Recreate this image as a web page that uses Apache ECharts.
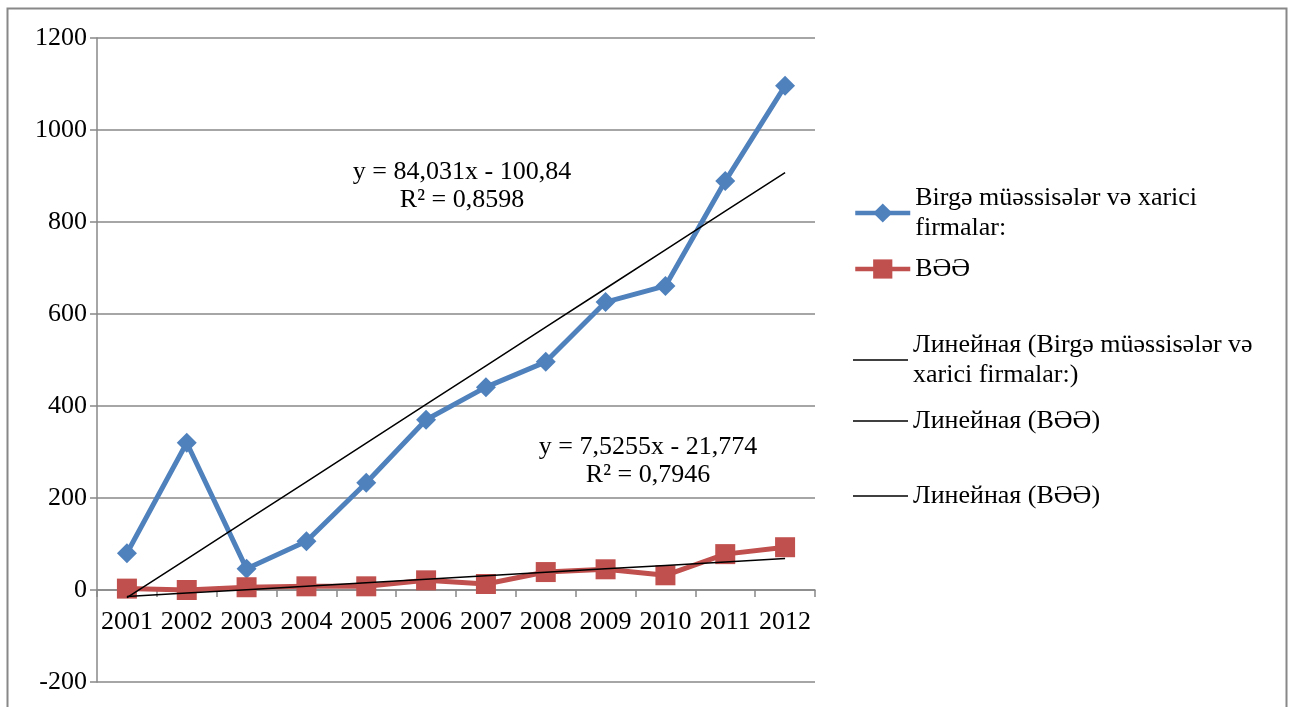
<!DOCTYPE html>
<html>
<head>
<meta charset="utf-8">
<script src="https://cdn.jsdelivr.net/npm/echarts@6/dist/echarts.min.js"></script>
<style>html,body{margin:0;padding:0;background:#fff}#c{width:1294px;height:707px}</style>
</head>
<body>
<div id="c"></div>
<script>
const years = ['2001','2002','2003','2004','2005','2006','2007','2008','2009','2010','2011','2012'];
const jointVentures = [80, 320, 46, 106, 233, 370, 441, 496, 626, 661, 889, 1096];
const bee = [3, 0, 6, 8, 8, 21, 13, 39, 45, 32, 78, 93];
const yTicks = [-200, 0, 200, 400, 600, 800, 1000, 1200];
const nameJV = 'Birgə müəssisələr və xarici firmalar:';
const nameBEE = 'BƏƏ';
const nameTrendJV = 'Линейная (Birgə müəssisələr və xarici firmalar:)';
const nameTrendBEE = 'Линейная (BƏƏ)';
// displayed trendline equations (x = 1..12)
const trendJV = { slope: 84.031, intercept: -100.84, eq: 'y = 84,031x - 100,84', r2: 'R² = 0,8598' };
const trendBEE = { slope: 7.5255, intercept: -21.774, eq: 'y = 7,5255x - 21,774', r2: 'R² = 0,7946' };

const trendPoints = t => years.map((_, i) => +(t.slope * (i + 1) + t.intercept).toFixed(2));

const FONT = '"Liberation Serif", "Times New Roman", serif';
const FS = 26;
const GRID_TOP = 38, GRID_H = 644;
const yMin = yTicks[0], yMax = yTicks[yTicks.length - 1];
// distance of the zero line above the grid bottom
const zeroOffset = GRID_H * (0 - yMin) / (yMax - yMin);
const chart = echarts.init(document.getElementById('c'));
const lineIcon = 'path://M0,0 L55,0 L55,1.6 L0,1.6 Z';
const legendBase = {
  orient: 'vertical', left: 853, padding: 0, itemWidth: 55, itemHeight: 18, itemGap: 0,
  selectedMode: false,
  textStyle: { fontFamily: FONT, fontSize: FS, color: '#000', lineHeight: 30 }
};
chart.setOption({
  animation: false,
  backgroundColor: '#fff',
  grid: { left: 97, top: GRID_TOP, width: 718, height: GRID_H, containLabel: false, outerBoundsMode: 'none' },
  xAxis: {
    type: 'category', data: years, boundaryGap: true, position: 'bottom', offset: -zeroOffset,
    axisLine: { onZero: false, lineStyle: { color: '#888', width: 1.5 } },
    axisTick: { show: true, length: 7, interval: 0, lineStyle: { color: '#888', width: 1.5 } },
    axisLabel: { fontFamily: FONT, fontSize: FS, color: '#000', margin: 19, interval: 0 },
    splitLine: { show: false }
  },
  yAxis: {
    type: 'value', min: yMin, max: yMax, interval: 200,
    axisLine: { show: true, lineStyle: { color: '#888', width: 1.5 } },
    axisTick: { show: true, length: 7, lineStyle: { color: '#888', width: 1.5 } },
    axisLabel: { fontFamily: FONT, fontSize: FS, color: '#000', margin: 10, formatter: v => String(v) },
    splitLine: { lineStyle: { color: '#888', width: 1.5 } }
  },
  legend: [
    Object.assign({}, legendBase, { top: 168, itemHeight: 24, data: [nameJV], lineStyle: { width: 4.5 },
      formatter: () => 'Birgə müəssisələr və xarici\nfirmalar:',
      textStyle: Object.assign({}, legendBase.textStyle, { padding: [30, 0, 0, 0] }) }),
    Object.assign({}, legendBase, { top: 254, itemHeight: 24, data: [nameBEE], lineStyle: { width: 4.5 } }),
    Object.assign({}, legendBase, { top: 315, data: [{ name: nameTrendJV, icon: lineIcon }],
      formatter: () => 'Линейная (Birgə müəssisələr və\nxarici firmalar:)',
      textStyle: Object.assign({}, legendBase.textStyle, { padding: [30, 0, 0, 0] }) }),
    Object.assign({}, legendBase, { top: 406, data: [{ name: nameTrendBEE, icon: lineIcon }] }),
    Object.assign({}, legendBase, { top: 481, data: [{ name: nameTrendBEE, icon: lineIcon }] })
  ],
  graphic: [
    { type: 'rect', shape: { x: 7.5, y: 8.5, width: 1279, height: 760 }, style: { fill: 'none', stroke: '#888', lineWidth: 2 }, silent: true },
    { type: 'text', x: 462, y: 172, style: { text: trendJV.eq, font: FS + 'px ' + FONT, fill: '#000', align: 'center', verticalAlign: 'middle' } },
    { type: 'text', x: 462, y: 200, style: { text: trendJV.r2, font: FS + 'px ' + FONT, fill: '#000', align: 'center', verticalAlign: 'middle' } },
    { type: 'text', x: 648, y: 447, style: { text: trendBEE.eq, font: FS + 'px ' + FONT, fill: '#000', align: 'center', verticalAlign: 'middle' } },
    { type: 'text', x: 648, y: 475, style: { text: trendBEE.r2, font: FS + 'px ' + FONT, fill: '#000', align: 'center', verticalAlign: 'middle' } }
  ],
  series: [
    { name: nameJV, type: 'line', data: jointVentures, symbol: 'diamond', symbolSize: 20,
      color: '#4F81BD', lineStyle: { width: 5, color: '#4F81BD' }, itemStyle: { color: '#4F81BD' }, z: 3 },
    { name: nameBEE, type: 'line', data: bee, symbol: 'rect', symbolSize: 20,
      color: '#C0504D', lineStyle: { width: 5, color: '#C0504D' }, itemStyle: { color: '#C0504D' }, z: 3 },
    { name: nameTrendJV, type: 'line', data: trendPoints(trendJV), symbol: 'none',
      color: '#000', lineStyle: { width: 1.5, color: '#000' }, z: 4 },
    { name: nameTrendBEE, type: 'line', data: trendPoints(trendBEE), symbol: 'none',
      color: '#000', lineStyle: { width: 1.5, color: '#000' }, z: 4 }
  ]
});
</script>
</body>
</html>
